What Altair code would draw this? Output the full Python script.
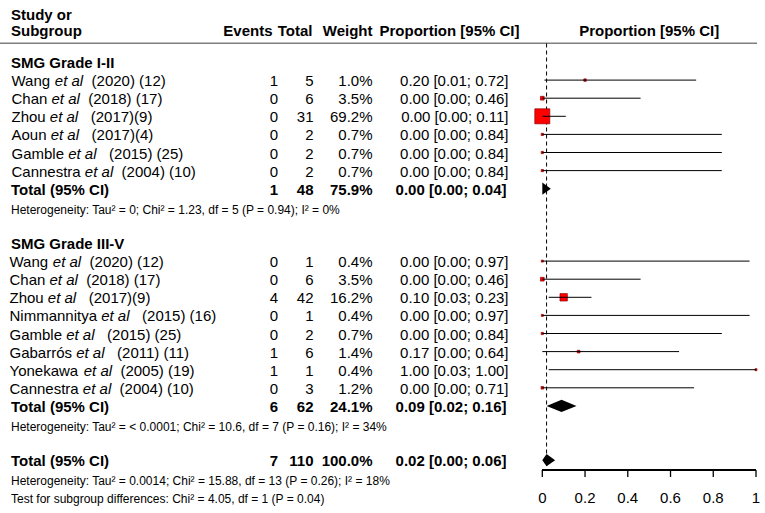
import altair as alt
import pandas as pd

FONT = "Liberation Sans"

# ---------------- data ----------------
group_titles = ["SMG Grade I-II", "SMG Grade III-V"]

# SMG grade I-II
g1_author = ["Wang", "Chan", "Zhou", "Aoun", "Gamble", "Cannestra"]
g1_cite = ["  (2020) (12)", "  (2018) (17)", "   (2017)(9)",
           "   (2017)(4)", "   (2015) (25)", "  (2004) (10)"]
g1_events = [1, 0, 0, 0, 0, 0]
g1_total = [5, 6, 31, 2, 2, 2]
g1_weight = [1.0, 3.5, 69.2, 0.7, 0.7, 0.7]
g1_est = [0.20, 0.00, 0.00, 0.00, 0.00, 0.00]
g1_lo = [0.01, 0.00, 0.00, 0.00, 0.00, 0.00]
g1_hi = [0.72, 0.46, 0.11, 0.84, 0.84, 0.84]

# SMG grade III-V
g2_author = ["Wang", "Chan", "Zhou", "Nimmannitya", "Gamble", "Gabarrós",
             "Yonekawa", "Cannestra"]
g2_cite = ["  (2020) (12)", "  (2018) (17)", "   (2017)(9)",
           "   (2015) (16)", "   (2015) (25)", "   (2011) (11)",
           "  (2005) (19)", "  (2004) (10)"]
g2_events = [0, 0, 4, 0, 0, 1, 1, 0]
g2_total = [1, 6, 42, 1, 2, 6, 1, 3]
g2_weight = [0.4, 3.5, 16.2, 0.4, 0.7, 1.4, 0.4, 1.2]
g2_est = [0.00, 0.00, 0.10, 0.00, 0.00, 0.17, 1.00, 0.00]
g2_lo = [0.00, 0.00, 0.03, 0.00, 0.00, 0.00, 0.03, 0.00]
g2_hi = [0.97, 0.46, 0.23, 0.97, 0.84, 0.64, 1.00, 0.71]

# pooled: grade I-II, grade III-V, overall
pool_events = [1, 6, 7]
pool_total = [48, 62, 110]
pool_weight = [75.9, 24.1, 100.0]
pool_est = [0.00, 0.09, 0.02]
pool_lo = [0.00, 0.02, 0.00]
pool_hi = [0.04, 0.16, 0.06]

het_text = [
    "Heterogeneity: Tau² = 0; Chi² = 1.23, df = 5 (P = 0.94); I² = 0%",
    "Heterogeneity: Tau² = < 0.0001; Chi² = 10.6, df = 7 (P = 0.16); I² = 34%",
    "Heterogeneity: Tau² = 0.0014; Chi² = 15.88, df = 13 (P = 0.26); I² = 18%",
]
test_text = "Test for subgroup differences: Chi² = 4.05, df = 1 (P = 0.04)"
axis_ticks = [0, 0.2, 0.4, 0.6, 0.8, 1]

# ---------------- row layout ----------------
row = 0
title_rows, study_rows, pool_rows, het_rows = [], [], [], []
for authors in (g1_author, g2_author):
    title_rows.append(row)
    row += 1
    study_rows.append(list(range(row, row + len(authors))))
    row += len(authors)
    pool_rows.append(row)
    het_rows.append(row + 1)
    row += 3
pool_rows.append(row)
het_rows.append(row + 1)
test_row = row + 2

ROW_PX = 18.1          # vertical pitch of one table row
TOP_PX = 62            # centre of the first row
AXIS_PX = 470          # baseline of the proportion axis
TICK_PX = 7            # tick length below the baseline

# Arial / Liberation Sans advance widths (1/1000 em), for placing text runs
ADV = {" ": 278, "A": 667, "C": 722, "G": 778, "N": 722, "W": 944, "Y": 667,
       "Z": 611, "a": 556, "b": 556, "e": 556, "g": 556, "h": 556, "i": 222,
       "k": 500, "l": 222, "m": 833, "n": 556, "o": 556, "ó": 556, "r": 333,
       "s": 500, "t": 278, "u": 556, "w": 722, "y": 500}


def text_width(s, size=15):
    return sum(ADV.get(c, 556) for c in s) * size / 1000.0


def fmt_ci(e, l, h):
    return f"{e:.2f} [{l:.2f}; {h:.2f}]"


authors = g1_author + g2_author
cites = g1_cite + g2_cite
studies = pd.DataFrame({
    "row": study_rows[0] + study_rows[1],
    "author": authors,
    "cite": [c.strip() for c in cites],
    "events": [str(v) for v in g1_events + g2_events],
    "total": [str(v) for v in g1_total + g2_total],
    "weight": g1_weight + g2_weight,
    "est": g1_est + g2_est,
    "lo": g1_lo + g2_lo,
    "hi": g1_hi + g2_hi,
})
studies["weight_s"] = [f"{w:.1f}%" for w in studies["weight"]]
studies["ci_s"] = [fmt_ci(e, l, h) for e, l, h in zip(studies["est"], studies["lo"], studies["hi"])]
studies["x_name"] = [11.5] * len(g1_author) + [9.5] * len(g2_author)
studies["x_etal"] = studies["x_name"] + [text_width(a + " ") for a in authors]
# leading blanks of each citation become horizontal gap after "et al"
studies["x_cite"] = studies["x_etal"] + text_width("et al") + [
    text_width(c[: len(c) - len(c.lstrip())]) for c in cites]
studies["etal"] = "et al"

pooled = pd.DataFrame({
    "row": pool_rows,
    "label": ["Total (95% CI)"] * 3,
    "events": [str(v) for v in pool_events],
    "total": [str(v) for v in pool_total],
    "weight_s": [f"{w:.1f}%" for w in pool_weight],
    "ci_s": [fmt_ci(e, l, h) for e, l, h in zip(pool_est, pool_lo, pool_hi)],
})
titles = pd.DataFrame({"row": title_rows, "label": group_titles})
notes = pd.DataFrame({"row": het_rows + [test_row], "label": het_text + [test_text]})

# diamond outlines for pooled estimates
H = 0.34
dia_rows = []
for g, (r, e, l, h) in enumerate(zip(pool_rows, pool_est, pool_lo, pool_hi)):
    pts = [(l, r, r), (e, r - H, r + H), (h, r, r)]
    last_x = None
    for x, y1, y2 in pts:
        if x == last_x:
            dia_rows[-1] = {"grp": g, "x": x, "y": y1, "y2": y2}
        else:
            dia_rows.append({"grp": g, "x": x, "y": y1, "y2": y2})
        last_x = x
diamonds = pd.DataFrame(dia_rows)

# axis table: one row per tick, plus the span of the baseline
axis_row = (AXIS_PX - TOP_PX) / ROW_PX
tick_row = (AXIS_PX + TICK_PX - TOP_PX) / ROW_PX
axis_df = pd.DataFrame({
    "t": axis_ticks,
    "label": [f"{t:g}" for t in axis_ticks],
    "lo": axis_ticks[0],
    "hi": axis_ticks[-1],
    "ya": axis_row,
    "yb": tick_row,
})
# two end points per tick, for drawing each tick as a short path
tick_path = pd.DataFrame({
    "t": [t for t in axis_ticks for _ in range(2)],
    "yr": [y for _ in axis_ticks for y in (axis_row, tick_row)],
})

# ---------------- scales ----------------
XS = alt.Scale(domain=[0, 1], range=[542.3, 756], nice=False, zero=False)
YS = alt.Scale(domain=[0, 24], range=[TOP_PX, TOP_PX + ROW_PX * 24], nice=False, zero=False)


def xq(field):
    return alt.X(f"{field}:Q", scale=XS, axis=None)


def yq(field="row"):
    return alt.Y(f"{field}:Q", scale=YS, axis=None)


def px(field):
    return alt.X(f"{field}:Q", scale=None, axis=None)


layers = []

# header underline
layers.append(
    alt.Chart(pd.DataFrame({"k": [0]})).mark_rule(color="#7f7f7f", strokeWidth=1.5)
    .encode(x=alt.value(0), x2=alt.value(757), y=alt.value(43.3))
)

# dashed line at the overall pooled estimate
layers.append(
    alt.Chart(pd.DataFrame({"est": [pool_est[-1]]}))
    .mark_rule(color="black", strokeWidth=1, strokeDash=[4, 3])
    .encode(x=xq("est"), y=alt.value(43.5), y2=alt.value(466))
)

# study squares (area ~ weight)
layers.append(
    alt.Chart(studies).mark_square(fill="red", stroke="#8b0000", strokeWidth=0.7, opacity=1)
    .encode(x=xq("est"), y=yq(),
            size=alt.Size("weight:Q", scale=alt.Scale(domain=[0.4, 69.2], range=[4, 225], zero=False),
                          legend=None))
)

# confidence intervals
layers.append(
    alt.Chart(studies).mark_rule(color="black", strokeWidth=1)
    .encode(x=xq("lo"), x2="hi:Q", y=yq())
)

# pooled diamonds
layers.append(
    alt.Chart(diamonds).mark_area(color="black", orient="vertical", opacity=1)
    .encode(x=xq("x"), y=yq("y"), y2="y2:Q", detail="grp:N")
)

# x axis: baseline through the tick positions, downward ticks, labels
layers.append(
    alt.Chart(axis_df).mark_line(color="#000000", strokeWidth=1.3, opacity=1)
    .encode(x=xq("t"), y=yq("ya"))
)
layers.append(
    alt.Chart(axis_df).mark_rule(color="#000000", strokeWidth=1.3)
    .encode(x=xq("lo"), x2="hi:Q", y=yq("ya"))
)
layers.append(
    alt.Chart(tick_path).mark_line(color="#000000", strokeWidth=1.3, opacity=1)
    .encode(x=xq("t"), y=yq("yr"), detail="t:N")
)
layers.append(
    alt.Chart(axis_df).mark_text(align="center", baseline="middle", font=FONT, fontSize=15,
                                 color="black")
    .encode(x=xq("t"), y=alt.value(AXIS_PX + 27.5), text="label:N")
)


def text_layer(df, x, text, align="left", weight="normal", style="normal", size=15, dy=1, y=None):
    return alt.Chart(df).mark_text(
        align=align, baseline="middle", font=FONT, fontSize=size,
        fontWeight=weight, fontStyle=style, color="black", dy=dy
    ).encode(x=x, y=y if y is not None else yq(), text=f"{text}:N")


# study label runs
layers.append(text_layer(studies, px("x_name"), "author"))
layers.append(text_layer(studies, px("x_etal"), "etal", style="italic"))
layers.append(text_layer(studies, px("x_cite"), "cite"))

# study numeric columns
layers.append(text_layer(studies, alt.value(278), "events", align="right"))
layers.append(text_layer(studies, alt.value(313.5), "total", align="right"))
layers.append(text_layer(studies, alt.value(372.5), "weight_s", align="right"))
layers.append(text_layer(studies, alt.value(508.5), "ci_s", align="right"))

# subgroup titles and pooled rows
layers.append(text_layer(titles, alt.value(11), "label", weight="bold"))
layers.append(text_layer(pooled, alt.value(11), "label", weight="bold"))
layers.append(text_layer(pooled, alt.value(278), "events", align="right", weight="bold"))
layers.append(text_layer(pooled, alt.value(313.5), "total", align="right", weight="bold"))
layers.append(text_layer(pooled, alt.value(372.5), "weight_s", align="right", weight="bold"))
layers.append(text_layer(pooled, alt.value(506.5), "ci_s", align="right", weight="bold"))

# heterogeneity / subgroup test notes
layers.append(text_layer(notes, alt.value(11), "label", size=12, dy=3))

# column headers
header = pd.DataFrame({
    "label": ["Study or", "Subgroup", "Events", "Total", "Weight", "Proportion [95% CI]"],
    "x": [11, 11, 272.5, 312.5, 372.5, 519.5],
    "y": [13.5, 30, 30, 30, 30, 30],
    "a": ["left", "left", "right", "right", "right", "right"],
})
for a in ["left", "right"]:
    layers.append(
        text_layer(header[header["a"] == a], px("x"), "label", align=a, weight="bold",
                   y=alt.Y("y:Q", scale=None, axis=None))
    )
layers.append(
    alt.Chart(pd.DataFrame({"label": ["Proportion [95% CI]"], "mid": [0.5]}))
    .mark_text(align="center", baseline="middle", font=FONT, fontSize=15,
               fontWeight="bold", color="black", dy=1)
    .encode(x=xq("mid"), y=alt.value(30), text="label:N")
)

chart = (
    alt.layer(*layers)
    .resolve_scale(x="independent", y="independent")
    .properties(width=765, height=513, padding=0,
                autosize=alt.AutoSizeParams(type="none"),
                background="white")
    .configure_view(stroke=None)
)

chart.save("out.html", embed_options={"renderer": "svg", "actions": False})
